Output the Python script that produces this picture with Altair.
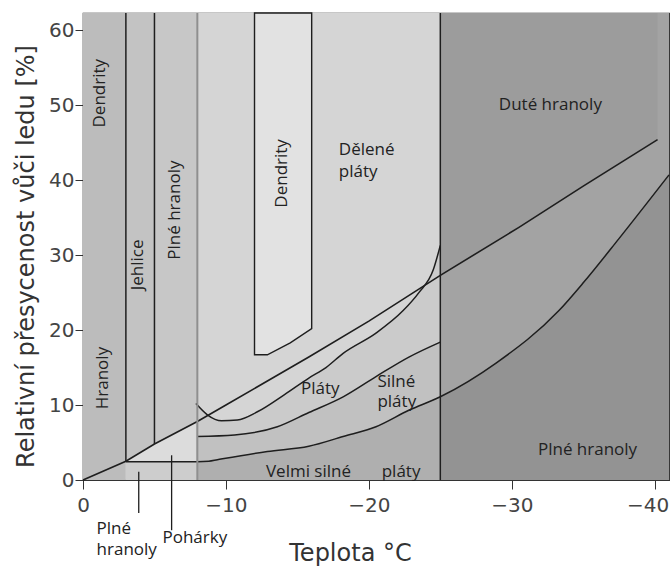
import altair as alt
import pandas as pd

# ---------------------------------------------------------------------------
# Snow crystal habit diagram: temperature (°C) vs. supersaturation over ice (%)
# ---------------------------------------------------------------------------
TOP = 62.3      # upper limit of the supersaturation axis
T_END = -41     # coldest temperature shown

# water saturation line
sat_t = [0, -3, -5, -8, -10, -15.8, -20, -25, -30.5, -35, -40.2]
sat_s = [0, 2.5, 4.8, 7.8, 10.0, 16.4, 21.2, 27.3, 33.7, 39.2, 45.4]

# lower boundary: solid columns / very thick plates / solid columns (cold)
low_t = [-3, -8, -8.8, -9.4, -12.9, -15.8, -18.2, -20.5, -22.8, -25,
         -28.9, -33.3, -35, -37.5, -41]
low_s = [2.45, 2.45, 2.5, 2.7, 3.8, 4.5, 5.8, 7.1, 9.3, 11.1,
         15.6, 22.6, 26.3, 32.2, 40.7]

# thick plates / plates
mid_t = [-8, -10.6, -13.6, -15.8, -18.2, -20.5, -22.8, -25]
mid_s = [5.8, 6.0, 7.1, 9.0, 11.1, 13.8, 16.4, 18.4]

# plates / sectored plates
up_t = [-7.9, -8.7, -9.7, -10.8, -12.2, -14.1, -15.8, -17.0, -18.2,
        -20.5, -22.4, -23.5, -24.5, -25.0]
up_s = [10.2, 8.7, 7.9, 8.0, 9.1, 11.4, 13.6, 15.0, 16.9,
        19.6, 22.6, 25.0, 28.0, 31.3]

# dendrite pocket between -12 and -16 °C
den_t = [-12, -12.9, -14.5, -16]
den_s = [16.7, 16.7, 18.3, 20.2]

# background bands
band_t1 = [0, -3, -5, -8, -25, -3]
band_t2 = [-3, -5, -8, -25, T_END, -8]
band_s1 = [0, 0, 0, 0, 0, 0]
band_s2 = [TOP, TOP, TOP, TOP, TOP, 2.45]
band_fill = ["#bcbcbc", "#c3c3c3", "#c7c7c7", "#d5d5d5", "#a3a3a3", "#cdcdcd"]

# vertical boundaries
vline_t = [-3, -5, -8, -25]
vline_s1 = [2.45, 4.8, 0, 0]
vline_s2 = [TOP, TOP, TOP, TOP]
vline_col = ["#1e1e1e", "#1e1e1e", "#8f8f8f", "#1e1e1e"]
vline_w = [1.5, 1.5, 2.0, 1.5]

# pointer lines for the labels under the axis
ptr_t = [-3.9, -6.2]
ptr_s1 = [1.1, 3.3]
ptr_s2 = [-4.4, -6.7]

# horizontal region labels
lab_text = ["Dělené\npláty", "Duté hranoly", "Plné hranoly", "Pláty",
            "Silné\npláty", "Velmi silné", "pláty", "Plné\nhranoly", "Pohárky"]
lab_t = [-17.9, -32.7, -35.3, -16.6, -20.6, -12.8, -20.9, -0.95, -5.56]
lab_s = [43.3, 49.3, 3.3, 11.5, 12.4, 0.4, 0.4, -7.2, -8.4]
lab_align = ["left", "center", "center", "center", "left", "left", "left", "left", "left"]
lab_lh = [22, 20, 20, 20, 20, 20, 20, 21, 20]

# rotated region labels
rot_text = ["Dendrity", "Hranoly", "Jehlice", "Plné hranoly", "Dendrity"]
rot_t = [-1.22, -1.43, -3.88, -6.47, -13.95]
rot_s = [51.6, 13.6, 28.7, 36.0, 40.9]

LINE = "#1e1e1e"
LABEL_FONT = "Open Sans"
AXIS_FONT = "DejaVu Sans"

xs = alt.Scale(domain=[0, T_END], nice=False, zero=False)
ys = alt.Scale(domain=[0, TOP], nice=False, zero=False)

# the coldest tick label is pulled inside the right edge of the frame
edge_test = "datum.value <= -40"
x_axis = alt.Axis(
    values=[0, -10, -20, -30, -40],
    labelExpr="datum.value == 0 ? '0' : '\u2212' + abs(datum.value)",
    labelAlign={"condition": {"test": edge_test, "value": "right"}, "value": "center"},
    labelOffset={"condition": {"test": edge_test, "value": 14}, "value": 0},
    grid=False, tickSize=9, tickColor="#333", domainColor="#333",
    labelFont=AXIS_FONT, labelFontSize=20, labelColor="#444", labelPadding=6,
    titleFont=AXIS_FONT, titleFontSize=24, titleFontWeight="normal",
    titleColor="#333", titleX=267, titleY=80, titleBaseline="alphabetic",
    titleAlign="center",
)
y_axis = alt.Axis(
    values=[0, 10, 20, 30, 40, 50, 60],
    grid=False, tickSize=8, tickColor="#333", domainColor="#333",
    labelFont=AXIS_FONT, labelFontSize=20, labelColor="#444", labelPadding=1,
    titleFont=AXIS_FONT, titleFontSize=24, titleFontWeight="normal",
    titleColor="#333", titleX=-50, titleY=243, titleAngle=270,
    titleBaseline="alphabetic", titleAlign="center",
)

XT = "Teplota °C"
YT = "Relativní přesycenost vůči ledu [%]"


def X(f):
    return alt.X(f"{f}:Q", scale=xs, axis=x_axis, title=XT)


def Y(f):
    return alt.Y(f"{f}:Q", scale=ys, axis=y_axis, title=YT)


def curve(t, s):
    return pd.DataFrame({"t": t, "s": s, "i": list(range(len(t)))})


sat = curve(sat_t, sat_s)
low = curve(low_t, low_s)
mid = curve(mid_t, mid_s)
up = curve(up_t, up_s)
den = curve(den_t, den_s)

bands = alt.Chart(pd.DataFrame({
    "t1": band_t1, "t2": band_t2, "s1": band_s1, "s2": band_s2, "fill": band_fill
})).mark_rect().encode(
    x=X("t1"), x2="t2", y=Y("s1"), y2="s2",
    color=alt.Color("fill:N", scale=None),
)


def area(df, fill, lo, hi, base, interp="linear", stroke=None):
    kw = {"color": fill, "opacity": 1, "interpolate": interp}
    if stroke:
        kw.update(stroke=stroke, strokeWidth=1.4)
    return alt.Chart(df).transform_filter(
        (alt.datum.t <= hi) & (alt.datum.t >= lo)
    ).mark_area(**kw).encode(
        x=X("t"), y=Y("s"), y2=alt.datum(base)
    )


SMOOTH = "monotone"
triangle = area(sat, "#dcdcdc", -8, -3, 2.45)
plates = area(up, "#cbcbcb", -26, 0, 0, SMOOTH)
thick = area(mid, "#c1c1c1", -26, 0, 0, SMOOTH)
vthick = area(low, "#afafaf", -25, -8, 0, SMOOTH)
hollow = area(sat, "#9c9c9c", -41, -25, TOP)
solid = area(low, "#939393", -41, -25, 0, SMOOTH)
dendrite = area(den, "#e2e2e2", -20, 0, TOP, stroke=LINE)


def line(df, width=1.5, interp="linear"):
    return alt.Chart(df).mark_line(
        color=LINE, strokeWidth=width, interpolate=interp
    ).encode(x=X("t"), y=Y("s"), order="i:Q")


lines = (line(sat, 1.6) + line(low, interp=SMOOTH) + line(mid, interp=SMOOTH)
         + line(up, interp=SMOOTH))

vlines = alt.Chart(pd.DataFrame({
    "t": vline_t, "s1": vline_s1, "s2": vline_s2, "c": vline_col, "w": vline_w
})).mark_rule().encode(
    x=X("t"), y=Y("s1"), y2="s2", color=alt.Color("c:N", scale=None),
    strokeWidth=alt.StrokeWidth("w:Q", scale=None),
)

pointers = alt.Chart(pd.DataFrame({
    "t": ptr_t, "s1": ptr_s1, "s2": ptr_s2
})).mark_rule(color=LINE, strokeWidth=1.3).encode(
    x=X("t"), y=Y("s1"), y2="s2"
)

lab_df = pd.DataFrame({
    "t": lab_t, "s": lab_s, "txt": lab_text, "al": lab_align, "lh": lab_lh
})


def label_layer(align, lh):
    return alt.Chart(lab_df).transform_filter(
        (alt.datum.al == align) & (alt.datum.lh == lh)
    ).mark_text(
        font=LABEL_FONT, fontSize=17, color="#222", baseline="alphabetic",
        lineBreak="\n", align=align, lineHeight=lh,
    ).encode(x=X("t"), y=Y("s"), text="txt:N")


label_groups = sorted(set(zip(lab_align, lab_lh)))
labels = alt.layer(*[label_layer(a, h) for a, h in label_groups])

rot_labels = alt.Chart(pd.DataFrame({
    "t": rot_t, "s": rot_s, "txt": rot_text
})).mark_text(
    font=LABEL_FONT, fontSize=17, color="#222", angle=270,
    align="center", baseline="middle",
).encode(x=X("t"), y=Y("s"), text="txt:N")

chart = alt.layer(
    bands, triangle, plates, thick, vthick, hollow, solid, dendrite,
    lines, vlines, pointers, labels, rot_labels,
).properties(
    width=586, height=467,
    padding={"left": 83, "top": 13, "right": 2, "bottom": 86},
    autosize="none",
).configure_view(stroke="#222", strokeWidth=1.2)

chart.save("out.html", embed_options={"renderer": "svg", "actions": False})
